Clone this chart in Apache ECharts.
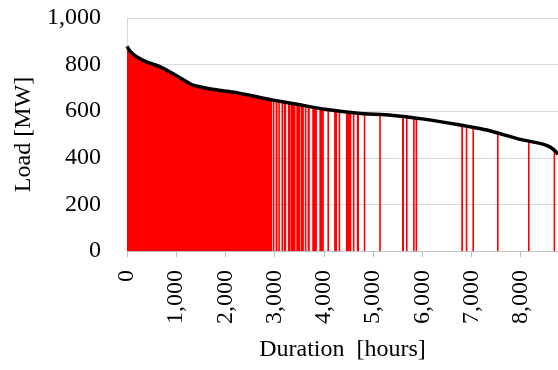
<!DOCTYPE html>
<html>
<head>
<meta charset="utf-8">
<title>Load duration curve</title>
<script src="https://cdn.jsdelivr.net/npm/echarts@6/dist/echarts.min.js"></script>
<style>
  html, body { margin: 0; padding: 0; background: #ffffff; }
  #chart { width: 558px; height: 370px; }
</style>
</head>
<body>
<div id="chart"></div>
<script>
// Load duration curve: [hour rank, load in MW]
const curveHours = [0, 60, 195, 397, 665, 867, 1068, 1270, 1405, 1740, 2143, 2547, 2722, 2950,
  3421, 4026, 4698, 5369, 6042, 6714, 7318, 7990, 8393, 8595, 8690, 8760];
const curveLoad = [878, 858, 834, 812, 791, 769, 745, 719, 708, 694, 682, 666, 658, 648,
  631, 608, 591, 583, 566, 543, 519, 479, 462, 447, 432, 415];

// Hours fully served at the start of the curve
const servedUntil = 2950;

// Scattered served hours further along: start hour, end hour, load at that point
const stripeStart = [2964, 3020, 3075, 3140, 3185, 3270, 3330, 3440, 3530, 3615, 3670, 3765, 3910,
  4073, 4210, 4300, 4450, 4591, 4671, 4812, 5127, 5590, 5670, 5815, 5865,
  6794, 6885, 7020, 7520, 8150, 8670];
const stripeEnd = [2994, 3060, 3105, 3170, 3235, 3325, 3425, 3520, 3595, 3635, 3715, 3860, 4000,
  4095, 4270, 4330, 4560, 4615, 4715, 4840, 5150, 5630, 5695, 5840, 5890,
  6830, 6910, 7050, 7545, 8178, 8695];
const stripeLoad = [647, 645, 643, 641, 639, 636, 633, 629, 626, 623, 621, 618, 613,
  606, 602, 599, 595, 593, 591, 589, 587, 579, 578, 575, 574,
  540, 537, 531, 505, 475, 432];

// Axis settings
const xTicks = { min: 0, max: 8760, step: 1000 };
const yTicks = { min: 0, max: 1000, step: 200 };
const xTitle = 'Duration  [hours]';
const yTitle = 'Load [MW]';

const curveData = curveHours.map((h, i) => [h, curveLoad[i]]);
const servedData = curveData.filter(p => p[0] <= servedUntil);
const stripeData = stripeStart.map((s, i) => [s, stripeEnd[i], stripeLoad[i]]);

const fmt = v => String(v).replace(/\B(?=(\d{3})+(?!\d))/g, ',');
const serif = '"Liberation Serif", "Times New Roman", serif';

const chart = echarts.init(document.getElementById('chart'), null, { renderer: 'canvas' });

chart.setOption({
  backgroundColor: '#ffffff',
  animation: false,
  grid: { left: 127, top: 18, width: 435, height: 233, containLabel: false },
  xAxis: {
    type: 'value',
    min: xTicks.min,
    max: xTicks.max,
    interval: xTicks.step,
    name: xTitle,
    nameLocation: 'middle',
    nameGap: 87,
    nameTextStyle: { fontFamily: serif, fontSize: 24, color: '#000' },
    axisLine: { show: true, lineStyle: { color: '#bfbfbf', width: 1 } },
    axisTick: { show: true, length: 6, lineStyle: { color: '#bfbfbf' } },
    splitLine: { show: false },
    axisLabel: {
      rotate: 90,
      margin: 19,
      showMaxLabel: false,
      fontFamily: serif,
      fontSize: 24,
      color: '#000',
      formatter: fmt
    }
  },
  yAxis: {
    type: 'value',
    min: yTicks.min,
    max: yTicks.max,
    interval: yTicks.step,
    name: yTitle,
    nameLocation: 'middle',
    nameGap: 90,
    nameRotate: 90,
    nameTextStyle: { fontFamily: serif, fontSize: 24, color: '#000' },
    axisLine: { show: true, lineStyle: { color: '#d9d9d9', width: 1 } },
    axisTick: { show: false },
    splitLine: { show: true, lineStyle: { color: '#d9d9d9', width: 1 } },
    axisLabel: {
      margin: 26,
      fontFamily: serif,
      fontSize: 24,
      color: '#000',
      formatter: fmt
    }
  },
  series: [
    {
      name: 'served',
      type: 'line',
      data: servedData,
      smooth: 0.2,
      symbol: 'none',
      lineStyle: { width: 0 },
      areaStyle: { color: '#ff0000', opacity: 1 },
      z: 2
    },
    {
      name: 'served hours',
      type: 'custom',
      data: stripeData,
      encode: { x: [0, 1], y: 2 },
      renderItem: function (params, api) {
        const top = api.coord([api.value(0), api.value(2)]);
        const base = api.coord([api.value(1), 0]);
        // keep single-hour stripes at least a hairline wide
        const w = Math.max(1.6, base[0] - top[0]);
        return {
          type: 'rect',
          shape: { x: top[0], y: top[1], width: w, height: base[1] - top[1] },
          style: { fill: '#ff0000', stroke: null, lineWidth: 0 }
        };
      },
      z: 3
    },
    {
      name: 'load',
      type: 'line',
      data: curveData,
      smooth: 0.2,
      symbol: 'none',
      lineStyle: { color: '#000000', width: 3.5 },
      z: 4
    }
  ]
});
</script>
</body>
</html>
